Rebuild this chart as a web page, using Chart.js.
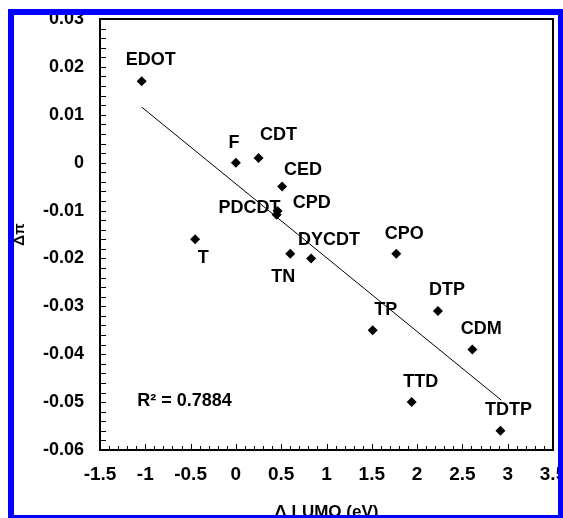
<!DOCTYPE html>
<html lang="en">
<head>
<meta charset="UTF-8">
<title>Δπ vs Δ LUMO</title>
<script src="https://cdn.jsdelivr.net/npm/chart.js"></script>
<style>
    body { margin: 0; background: white; }
    #wrap { width: 563px; height: 518px; }
</style>
</head>
<body>
<div id="wrap"><canvas id="grafico" width="563" height="518"></canvas></div>
<script>
// data
const nombres = ['EDOT', 'F', 'CDT', 'CED', 'PDCDT', 'CPD', 'T', 'TN', 'DYCDT', 'CPO', 'TP', 'DTP', 'CDM', 'TTD', 'TDTP'];
const dLumo = [-1.04, 0, 0.25, 0.51, 0.46, 0.45, -0.45, 0.6, 0.83, 1.77, 1.51, 2.23, 2.61, 1.94, 2.92];
const dPi = [0.017, 0, 0.001, -0.005, -0.0101, -0.0109, -0.016, -0.019, -0.020, -0.019, -0.035, -0.031, -0.039, -0.050, -0.056];
const trendX = [-1.04, 2.93];
const trendY = [0.0116, -0.0496];
const r2Text = 'R² = 0.7884';

// label offsets in px (text centre relative to marker)
const labelOffsets = [[9, -21], [-2, -20], [20, -23], [21, -17], [-28, -3], [35, -12], [8, 19], [-7, 23],
    [18, -18], [8, -20], [13, -20], [9, -21], [9, -20], [9, -20], [8, -21]];

const puntos = dLumo.map((x, i) => ({ x: x, y: dPi[i] }));
const tendencia = trendX.map((x, i) => ({ x: x, y: trendY[i] }));

const negrita = 'bold 18px "Liberation Sans", Arial, sans-serif';
const fmt = v => String(Number(v.toFixed(3)));
const sinPadding = s => { s.paddingTop = 0; s.paddingBottom = 0; s.paddingLeft = 0; s.paddingRight = 0; };

const decor = {
    id: 'decor',
    afterDraw(chart) {
        const ctx = chart.ctx;
        const a = chart.chartArea;
        const xs = chart.scales.x, ys = chart.scales.y;
        ctx.save();
        // frame
        ctx.strokeStyle = '#000';
        ctx.lineWidth = 2;
        ctx.strokeRect(a.left, a.top, a.right - a.left, a.bottom - a.top);
        // inward tick marks
        ctx.lineWidth = 1;
        ctx.beginPath();
        for (let i = 0; i <= 50; i++) {
            const px = Math.round(xs.getPixelForValue(-1.5 + i * 0.1)) + 0.5;
            const len = i % 5 === 0 ? 6 : 4;
            ctx.moveTo(px, a.bottom);
            ctx.lineTo(px, a.bottom - len);
        }
        for (let i = 0; i <= 45; i++) {
            const py = Math.round(ys.getPixelForValue(-0.06 + i * 0.002)) + 0.5;
            ctx.moveTo(a.left, py);
            ctx.lineTo(a.left + 6, py);
        }
        ctx.stroke();
        // point labels
        ctx.fillStyle = '#000';
        ctx.font = negrita;
        ctx.textAlign = 'center';
        ctx.textBaseline = 'middle';
        nombres.forEach((n, i) => {
            const px = xs.getPixelForValue(dLumo[i]) + labelOffsets[i][0];
            const py = ys.getPixelForValue(dPi[i]) + labelOffsets[i][1];
            ctx.fillText(n, px, py);
        });
        ctx.textAlign = 'left';
        ctx.fillText(r2Text, xs.getPixelForValue(-1.09), ys.getPixelForValue(-0.0498));
        // blue frame
        ctx.fillStyle = '#0000ff';
        ctx.fillRect(8, 9, 6, 509);
        ctx.fillRect(8, 9, 555, 6);
        ctx.fillRect(558, 9, 5, 509);
        ctx.fillRect(8, 515, 555, 3);
        ctx.restore();
    }
};

const ctx = document.getElementById('grafico').getContext('2d');
const chart = new Chart(ctx, {
    type: 'scatter',
    data: {
        datasets: [
            {
                label: 'Δπ',
                data: puntos,
                pointStyle: 'rectRot',
                pointRadius: 5,
                backgroundColor: '#000',
                borderColor: '#000',
                borderWidth: 0
            },
            {
                type: 'line',
                label: 'Linear',
                data: tendencia,
                showLine: true,
                borderColor: '#000',
                borderWidth: 1,
                pointRadius: 0,
                fill: false
            }
        ]
    },
    options: {
        responsive: false,
        animation: false,
        devicePixelRatio: 1,
        layout: { autoPadding: false, padding: { left: 0, top: 19, right: 10, bottom: 0 } },
        plugins: { legend: { display: false }, tooltip: { enabled: false } },
        scales: {
            x: {
                type: 'linear',
                min: -1.5, max: 3.5,
                grid: { display: false, drawTicks: false },
                border: { display: false },
                ticks: { stepSize: 0.5, padding: 13, color: '#000', callback: fmt,
                    font: { family: '"Liberation Sans", Arial', size: 19, weight: 'bold' } },
                title: { display: true, text: 'Δ LUMO (eV)', color: '#000', padding: 0,
                    font: { family: '"Liberation Sans", Arial', size: 17, weight: 'bold', lineHeight: 0.7 } },
                afterFit(s) { s.height = 68; sinPadding(s); }
            },
            y: {
                min: -0.06, max: 0.03,
                grid: { display: false, drawTicks: false },
                border: { display: false },
                ticks: { stepSize: 0.01, padding: 16, color: '#000', callback: fmt,
                    font: { family: '"Liberation Sans", Arial', size: 18, weight: 'bold' } },
                title: { display: true, text: 'Δπ', color: '#000', padding: { top: 12, bottom: 0 },
                    font: { family: '"Liberation Sans", Arial', size: 15, weight: 'bold', lineHeight: 1 } },
                afterFit(s) { s.width = 100; sinPadding(s); }
            }
        }
    },
    plugins: [decor]
});
</script>
</body>
</html>
